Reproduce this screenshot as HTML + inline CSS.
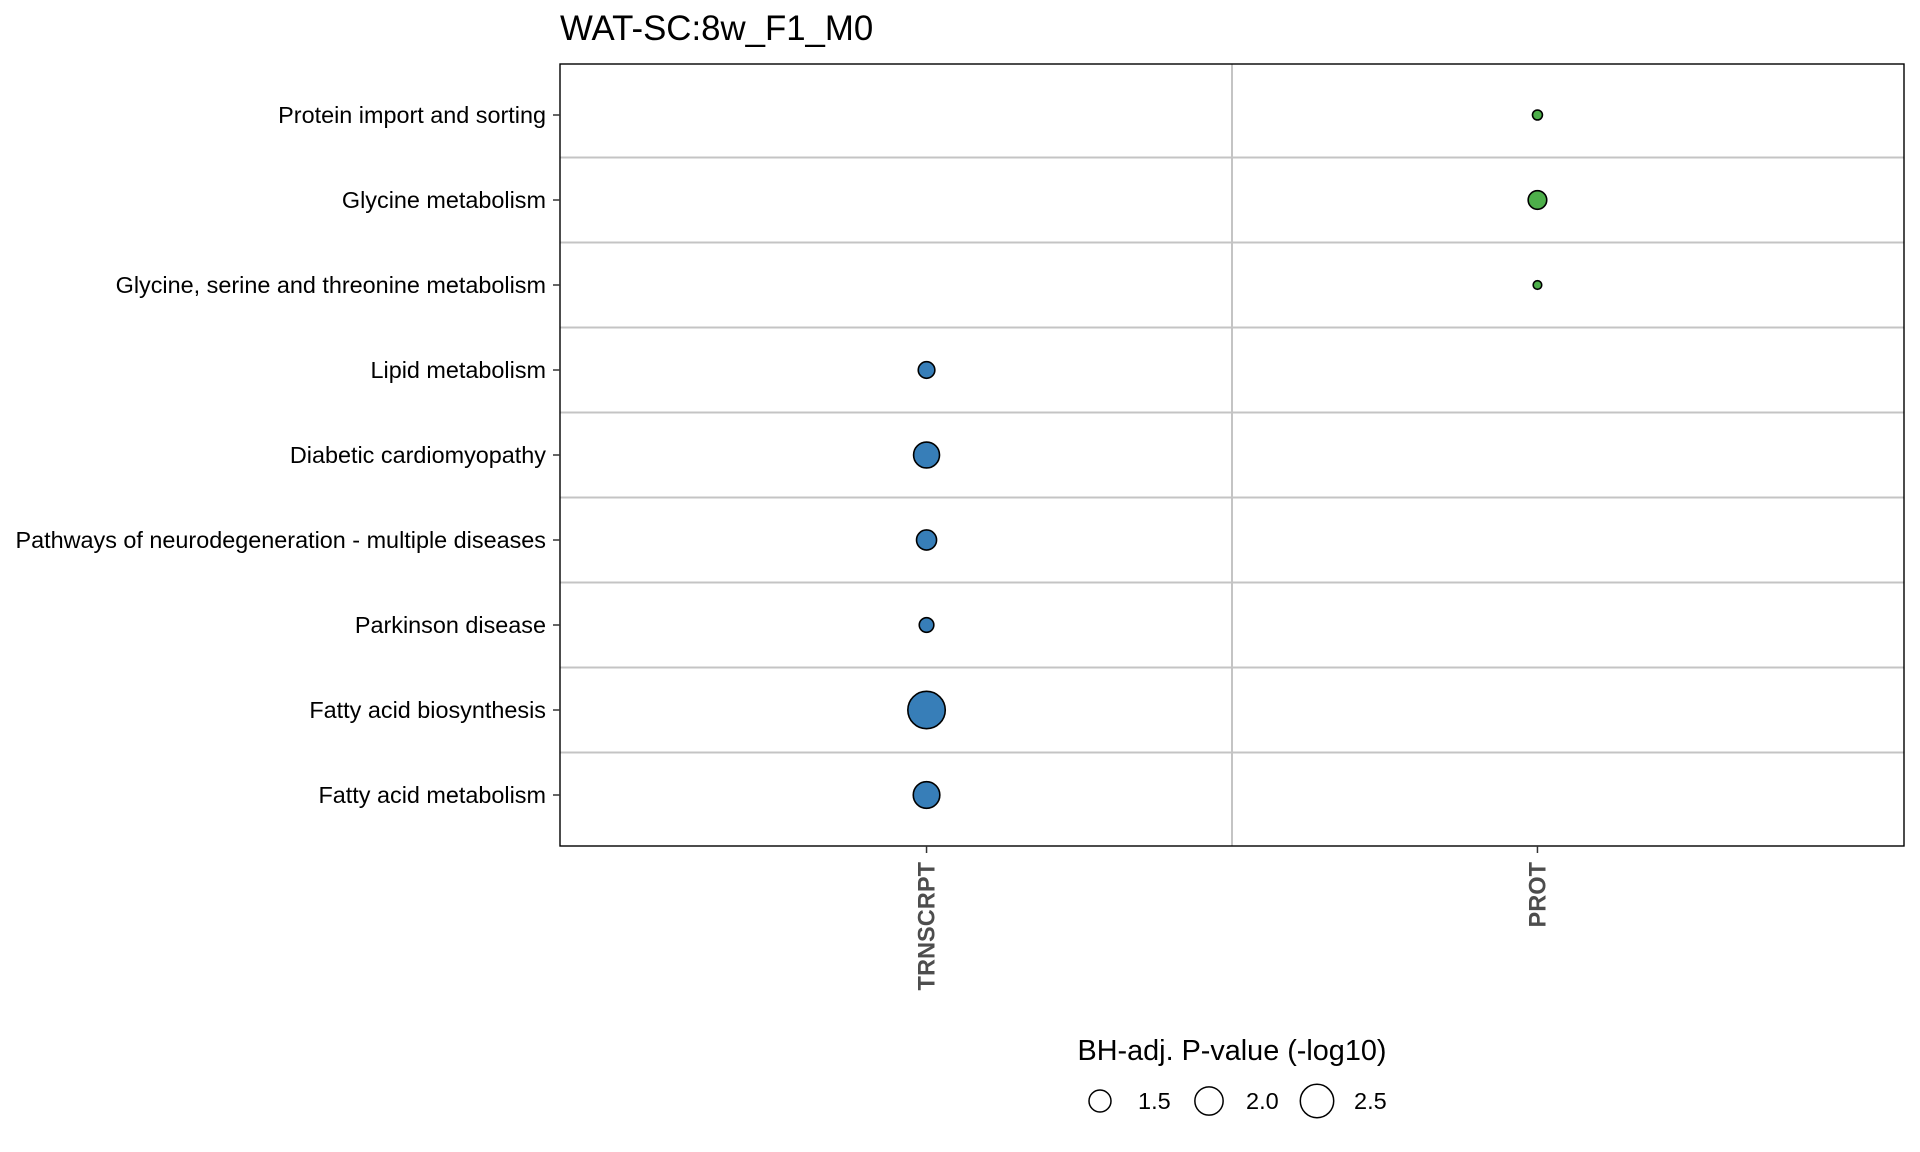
<!DOCTYPE html>
<html><head><meta charset="utf-8"><style>
html,body{margin:0;padding:0;background:#fff;}
svg{display:block;font-family:"Liberation Sans",Arial,sans-serif;}
</style></head><body>
<svg id="chart" width="1920" height="1152" viewBox="0 0 1920 1152">
<text x="560" y="40" font-size="34.8" fill="#000">WAT-SC:8w_F1_M0</text>
<g id="grid"></g>
<g id="points"></g>
<rect x="560" y="64" width="1344" height="782" fill="none" stroke="#000" stroke-width="1.4"/>
<g id="yaxis"></g>
<g id="xaxis"></g>
<g id="legend">
<text x="1232" y="1060" font-size="28.8" text-anchor="middle" fill="#000">BH-adj. P-value (-log10)</text>
</g>
</svg>
<script>
const categories = ["Protein import and sorting","Glycine metabolism","Glycine, serine and threonine metabolism","Lipid metabolism","Diabetic cardiomyopathy","Pathways of neurodegeneration - multiple diseases","Parkinson disease","Fatty acid biosynthesis","Fatty acid metabolism"];
const omics = ["TRNSCRPT","PROT"];
const pointOmics = ["PROT","PROT","PROT","TRNSCRPT","TRNSCRPT","TRNSCRPT","TRNSCRPT","TRNSCRPT","TRNSCRPT"];
const pValues = [0.89,1.28,0.85,1.17,1.80,1.37,1.07,2.95,1.85];
const legendValues = [1.5,2.0,2.5];
const legendLabels = ["1.5","2.0","2.5"];

const NS="http://www.w3.org/2000/svg";
const L=560,T=64,W=1344,H=782;
const yUnit=H/(categories.length+0.2);
const xUnit=W/(omics.length+0.2);
function yPos(i){return T+(0.6+i)*yUnit;}
function xPos(i){return L+(0.6+i)*xUnit;}
function rSize(v){return Math.sqrt(Math.max(4,158*v-116));}
function mk(tag,attrs,parent){const e=document.createElementNS(NS,tag);for(const k in attrs)e.setAttribute(k,attrs[k]);parent.appendChild(e);return e;}
const grid=document.getElementById('grid'),pts=document.getElementById('points'),ya=document.getElementById('yaxis'),xa=document.getElementById('xaxis'),lg=document.getElementById('legend');
for(let i=0;i<categories.length-1;i++){
  const y=yPos(i+0.5);
  const ln=mk('line',{x1:L,x2:L+W,y1:y,y2:y,stroke:'#c4c4c4','stroke-width':2},grid);
  
  
}
for(let i=0;i<omics.length-1;i++){
  const x=xPos(i+0.5);
  const ln=mk('line',{x1:x,x2:x,y1:T,y2:T+H,stroke:'#c4c4c4','stroke-width':2},grid);
  
  
}
categories.forEach((c,i)=>{
  const y=yPos(i);
  const tk=mk('line',{x1:L-7,x2:L,y1:y,y2:y,stroke:'#333','stroke-width':1.5},ya);
  
  
  const t=mk('text',{x:L-14,y:y+8,'font-size':23.4,'text-anchor':'end',fill:'#000'},ya);
  t.textContent=c;
  
  
  const xi=omics.indexOf(pointOmics[i]);
  const col=pointOmics[i]==='PROT'?'#4daf4a':'#377eb8';
  const p=mk('circle',{cx:xPos(xi),cy:y,r:rSize(pValues[i]),fill:col,stroke:'#000','stroke-width':1.6},pts);
  
  
});
omics.forEach((o,i)=>{
  const x=xPos(i);
  const tk=mk('line',{x1:x,x2:x,y1:T+H,y2:T+H+7,stroke:'#333','stroke-width':1.5},xa);
  
  
  const t=mk('text',{x:0,y:0,'font-size':23.6,'font-weight':'bold','text-anchor':'end',fill:'#4d4d4d',transform:`translate(${x+8},${T+H+16}) rotate(-90)`},xa);
  t.textContent=o;
  
  
});
const lx=[1100,1209,1317],tx=[1138,1246,1354];
legendValues.forEach((v,i)=>{
  const c=mk('circle',{cx:lx[i],cy:1101,r:rSize(v),fill:'none',stroke:'#000','stroke-width':1.5},lg);
  
  
  const t=mk('text',{x:tx[i],y:1109,'font-size':23.5,fill:'#000'},lg);
  t.textContent=legendLabels[i];
  
  
});
</script>
</body></html>
